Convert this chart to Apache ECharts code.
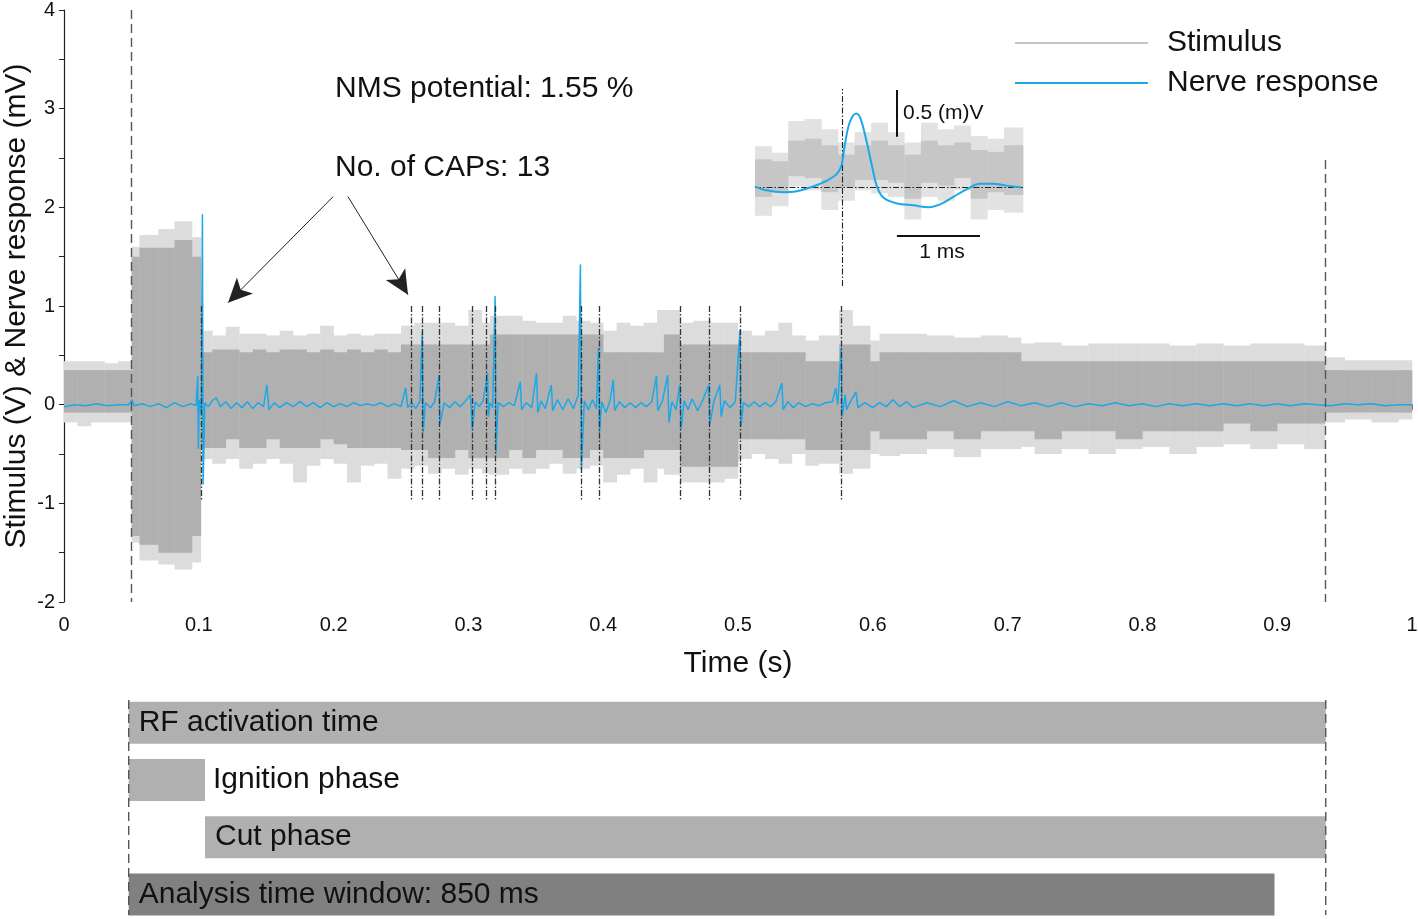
<!DOCTYPE html>
<html><head><meta charset="utf-8">
<script src="https://cdn.jsdelivr.net/npm/echarts@6/dist/echarts.min.js"></script>
<style>html,body{margin:0;padding:0;background:#fff}#chart{width:1418px;height:919px}</style>
</head><body><div id="chart"></div>
<script>
const FONT = '"Liberation Sans", Arial, Helvetica, sans-serif';

// ---- Stimulus envelope (step segments) ----
const stimTime = [0, 0.01, 0.02, 0.03, 0.04, 0.0502, 0.056, 0.07, 0.082, 0.095,
  0.1015, 0.11, 0.12, 0.13, 0.14, 0.15, 0.16, 0.17, 0.18, 0.19,
  0.20, 0.21, 0.22, 0.23, 0.24, 0.25, 0.26, 0.27, 0.28, 0.29,
  0.30, 0.31, 0.316, 0.33, 0.34, 0.35, 0.36, 0.37, 0.38, 0.39,
  0.40, 0.41, 0.42, 0.43, 0.44, 0.445, 0.457, 0.467, 0.48, 0.49,
  0.50, 0.51, 0.52, 0.53, 0.54, 0.55, 0.56, 0.575, 0.585, 0.598,
  0.605, 0.62, 0.64, 0.66, 0.68, 0.70, 0.71, 0.72, 0.74, 0.76,
  0.78, 0.80, 0.82, 0.84, 0.86, 0.88, 0.90, 0.92, 0.9355, 0.95,
  0.97, 0.99, 1.0];
const stimCoreHigh = [0.35, 0.35, 0.35, 0.35, 0.35, 1.50, 1.59, 1.59, 1.67, 1.50,
  0.53, 0.56, 0.56, 0.53, 0.56, 0.53, 0.56, 0.56, 0.53, 0.56,
  0.53, 0.56, 0.53, 0.56, 0.53, 0.61, 0.61, 0.61, 0.61, 0.61,
  0.61, 0.61, 0.71, 0.71, 0.71, 0.71, 0.71, 0.71, 0.71, 0.71,
  0.53, 0.53, 0.53, 0.53, 0.53, 0.71, 0.61, 0.61, 0.61, 0.61,
  0.53, 0.53, 0.53, 0.53, 0.53, 0.44, 0.44, 0.61, 0.61, 0.44,
  0.53, 0.53, 0.53, 0.53, 0.53, 0.53, 0.44, 0.44, 0.44, 0.44,
  0.44, 0.44, 0.44, 0.44, 0.44, 0.44, 0.44, 0.44, 0.35, 0.35,
  0.35, 0.35];
const stimCoreLow = [-0.08, -0.08, -0.08, -0.08, -0.08, -1.33, -1.42, -1.50, -1.50, -1.33,
  -0.44, -0.44, -0.35, -0.44, -0.44, -0.35, -0.44, -0.44, -0.44, -0.35,
  -0.40, -0.44, -0.44, -0.44, -0.44, -0.46, -0.46, -0.54, -0.54, -0.46,
  -0.54, -0.54, -0.54, -0.46, -0.54, -0.46, -0.46, -0.54, -0.54, -0.46,
  -0.54, -0.54, -0.54, -0.46, -0.46, -0.46, -0.63, -0.63, -0.63, -0.63,
  -0.35, -0.35, -0.35, -0.35, -0.35, -0.46, -0.46, -0.46, -0.46, -0.27,
  -0.35, -0.35, -0.27, -0.35, -0.27, -0.27, -0.27, -0.35, -0.27, -0.27,
  -0.35, -0.27, -0.27, -0.27, -0.19, -0.27, -0.19, -0.19, -0.08, -0.08,
  -0.08, -0.08];
const stimPeakHigh = [0.44, 0.44, 0.44, 0.42, 0.44, 1.60, 1.72, 1.78, 1.86, 1.70,
  0.75, 0.70, 0.79, 0.72, 0.72, 0.70, 0.75, 0.70, 0.72, 0.80,
  0.70, 0.72, 0.70, 0.72, 0.72, 0.80, 0.83, 0.83, 0.83, 0.80,
  0.96, 0.83, 0.90, 0.90, 0.85, 0.83, 0.83, 0.90, 0.85, 0.83,
  0.75, 0.83, 0.80, 0.83, 0.96, 0.96, 0.83, 0.85, 0.83, 0.83,
  0.75, 0.70, 0.75, 0.83, 0.70, 0.65, 0.70, 0.96, 0.80, 0.65,
  0.72, 0.72, 0.70, 0.68, 0.70, 0.68, 0.62, 0.63, 0.60, 0.62,
  0.62, 0.62, 0.60, 0.62, 0.60, 0.62, 0.62, 0.60, 0.48, 0.45,
  0.45, 0.45];
const stimPeakLow = [-0.18, -0.22, -0.18, -0.18, -0.18, -1.40, -1.58, -1.62, -1.67, -1.60,
  -0.55, -0.60, -0.55, -0.65, -0.60, -0.55, -0.60, -0.79, -0.62, -0.55,
  -0.60, -0.79, -0.62, -0.60, -0.75, -0.65, -0.62, -0.70, -0.65, -0.71,
  -0.65, -0.70, -0.71, -0.65, -0.70, -0.65, -0.60, -0.70, -0.65, -0.62,
  -0.79, -0.71, -0.65, -0.79, -0.65, -0.71, -0.79, -0.79, -0.79, -0.75,
  -0.55, -0.50, -0.55, -0.60, -0.50, -0.62, -0.60, -0.70, -0.65, -0.50,
  -0.52, -0.50, -0.45, -0.53, -0.45, -0.45, -0.43, -0.50, -0.45, -0.50,
  -0.45, -0.43, -0.50, -0.43, -0.40, -0.45, -0.40, -0.45, -0.18, -0.15,
  -0.18, -0.15];

// ---- Nerve response trace [time s, mV] ----
const nerveResponse = [
  [0,-0.02],[0.008,0.0],[0.016,-0.01],[0.024,0.01],[0.032,-0.01],[0.04,0.0],[0.048,0.0],[0.0505,0.05],[0.052,-0.01],
  [0.058,0.01],[0.064,-0.02],[0.07,0.01],[0.076,-0.03],[0.082,0.02],[0.088,-0.02],[0.094,0.01],[0.098,-0.01],
  [0.0992,0.29],[0.0997,-0.45],[0.1003,0.05],[0.1018,-0.1],[0.1027,1.93],[0.1032,-0.81],[0.1045,0.02],
  [0.107,-0.02],[0.11,0.04],[0.113,0.07],[0.116,-0.02],[0.12,0.03],[0.124,-0.04],[0.128,0.02],[0.132,-0.03],
  [0.136,0.03],[0.14,-0.04],[0.144,0.02],[0.148,-0.02],[0.1505,0.2],[0.152,-0.05],[0.156,0.02],[0.16,-0.03],
  [0.165,0.02],[0.17,-0.02],[0.175,0.03],[0.18,-0.02],[0.185,0.02],[0.19,-0.03],[0.195,0.02],[0.2,-0.02],
  [0.205,0.01],[0.21,-0.02],[0.215,0.02],[0.22,-0.01],[0.225,0.01],[0.23,-0.01],[0.235,0.02],[0.24,-0.02],
  [0.245,0.01],[0.25,-0.02],[0.2535,0.17],[0.255,-0.03],[0.258,0.02],[0.261,-0.04],[0.264,0.03],
  [0.2658,0.74],[0.2665,-0.28],[0.268,0.02],[0.272,-0.03],[0.275,0.03],[0.2782,0.3],[0.2789,-0.2],
  [0.282,0.02],[0.286,-0.03],[0.29,0.03],[0.294,-0.02],[0.298,0.04],[0.3015,0.1],[0.3029,-0.25],[0.305,0.03],
  [0.308,-0.02],[0.311,0.04],[0.3142,0.32],[0.3148,-0.12],[0.316,0.02],[0.318,-0.03],[0.3198,1.1],[0.3205,-0.49],
  [0.322,0.02],[0.326,-0.02],[0.33,0.02],[0.334,-0.01],[0.3385,0.23],[0.3395,-0.05],[0.343,0.02],[0.347,-0.03],
  [0.3505,0.32],[0.3515,-0.08],[0.354,0.04],[0.357,-0.04],[0.3615,0.2],[0.3625,-0.06],[0.366,0.05],[0.37,-0.05],
  [0.374,0.06],[0.378,-0.04],[0.3815,0.1],[0.3831,1.42],[0.3838,-0.66],[0.386,0.04],[0.389,-0.05],[0.392,0.05],
  [0.395,-0.04],[0.3965,0.58],[0.3972,-0.28],[0.399,0.03],[0.402,-0.08],[0.405,0.04],[0.4075,0.25],[0.4085,-0.06],
  [0.412,0.03],[0.416,-0.03],[0.42,0.02],[0.424,-0.03],[0.428,0.02],[0.432,-0.02],[0.436,0.03],[0.4395,0.29],
  [0.4405,-0.06],[0.444,0.04],[0.4478,0.3],[0.4488,-0.18],[0.451,0.03],[0.454,-0.05],[0.4568,0.2],[0.4578,-0.25],
  [0.46,0.04],[0.463,-0.05],[0.466,0.06],[0.47,-0.06],[0.474,0.05],[0.4782,0.2],[0.4792,-0.2],[0.482,0.03],
  [0.4865,0.2],[0.4875,-0.12],[0.49,0.04],[0.494,-0.03],[0.498,0.03],[0.5015,0.76],[0.5022,-0.22],[0.504,0.02],
  [0.508,-0.02],[0.512,0.03],[0.516,-0.02],[0.52,0.02],[0.524,-0.02],[0.528,0.03],[0.5325,0.22],[0.5335,-0.05],
  [0.537,0.03],[0.541,-0.03],[0.545,0.02],[0.55,-0.02],[0.555,0.01],[0.56,-0.01],[0.565,0.02],[0.57,0.03],
  [0.5725,0.17],[0.574,0.0],[0.5766,0.58],[0.5773,-0.12],[0.5795,0.1],[0.5805,-0.05],[0.583,0.02],[0.5875,0.13],
  [0.589,-0.03],[0.594,0.02],[0.6,-0.03],[0.605,0.02],[0.61,-0.02],[0.615,0.05],[0.62,-0.02],[0.625,0.03],
  [0.63,-0.03],[0.64,0.02],[0.65,-0.02],[0.66,0.04],[0.67,-0.02],[0.68,0.02],[0.69,-0.02],[0.70,0.03],
  [0.71,-0.01],[0.72,0.02],[0.73,-0.02],[0.74,0.02],[0.75,-0.02],[0.76,0.01],[0.77,-0.01],[0.78,0.02],
  [0.79,-0.01],[0.80,0.01],[0.81,-0.02],[0.82,0.01],[0.83,-0.01],[0.84,0.01],[0.85,-0.01],[0.86,0.01],
  [0.87,-0.01],[0.88,0.01],[0.89,-0.01],[0.90,0.01],[0.91,-0.01],[0.92,0.01],[0.93,0.0],[0.94,-0.01],
  [0.95,0.01],[0.96,0.0],[0.97,0.01],[0.98,-0.01],[0.99,0.0],[1.0,0.0]
];

// ---- Detected CAPs and RF window ----
const capTimes = [0.1021, 0.2579, 0.2661, 0.2784, 0.3029, 0.3135, 0.3202, 0.3835, 0.3969, 0.4575, 0.4785, 0.502, 0.5769];
const rfWindow = [0.0501, 0.9355];

// ---- Inset: averaged CAP (time ms, mV) ----
const insetCap = [
  [0,0.01],[0.14,-0.03],[0.34,-0.05],[0.50,-0.04],[0.70,0.01],[0.86,0.07],[0.98,0.14],[1.04,0.23],
  [1.08,0.44],[1.14,0.69],[1.22,0.79],[1.27,0.74],[1.34,0.51],[1.41,0.23],[1.47,0.01],[1.55,-0.11],
  [1.71,-0.17],[1.91,-0.19],[2.09,-0.21],[2.23,-0.18],[2.39,-0.10],[2.55,-0.02],[2.71,0.04],[2.87,0.04],
  [3.03,0.02],[3.21,0.0]
];
const insetNoiseTime = [0, 0.2, 0.4, 0.6, 0.8, 1.0, 1.2, 1.4, 1.6, 1.8, 2.0, 2.2, 2.4, 2.6, 2.8, 3.0, 3.23];
const insetNoiseHigh = [0.44, 0.37, 0.71, 0.73, 0.62, 0.48, 0.59, 0.69, 0.59, 0.48, 0.69, 0.62, 0.66, 0.55, 0.52, 0.64];
const insetNoiseLow = [-0.30, -0.20, 0.01, -0.03, -0.24, -0.14, -0.03, -0.06, -0.10, -0.34, -0.10, -0.14, -0.03, -0.34, -0.24, -0.27];
const insetCoreHigh = [0.30, 0.28, 0.50, 0.52, 0.45, 0.35, 0.45, 0.50, 0.45, 0.35, 0.50, 0.45, 0.48, 0.40, 0.38, 0.45];
const insetCoreLow = [-0.10, -0.05, 0.12, 0.10, -0.05, 0.00, 0.08, 0.08, 0.05, -0.12, 0.05, 0.02, 0.10, -0.12, -0.05, -0.08];
const insetCapOnset = 1.048;
const insetScaleBarX = 1.711;

// ---- Phase bars ----
const phaseNames = ['RF activation time', 'Ignition phase', 'Cut phase', 'Analysis time window: 850 ms'];
const phaseStart = [0.048, 0.048, 0.1046, 0.048];
const phaseEnd = [0.936, 0.1046, 0.936, 0.898];
const phaseColors = ['#b0b0b0', '#b0b0b0', '#b0b0b0', '#808080'];
const phaseWindow = [0.048, 0.936];

// ---- helpers ----
function segments(t, lo, hi) {
  const out = [];
  for (let i = 0; i < hi.length; i++) out.push([t[i], t[i + 1], lo[i], hi[i]]);
  return out;
}
function bandRenderer(color) {
  return function (params, api) {
    const p0 = api.coord([api.value(0), api.value(3)]);
    const p1 = api.coord([api.value(1), api.value(2)]);
    return { type: 'rect', shape: { x: p0[0], y: p0[1], width: p1[0] - p0[0] + 0.3, height: p1[1] - p0[1] },
      style: { fill: color } };
  };
}
const DASHDOT = [6, 2, 1.5, 2];

const chart = echarts.init(document.getElementById('chart'), null, { renderer: 'canvas' });
const option = {
  animation: false,
  backgroundColor: '#ffffff',
  textStyle: { fontFamily: FONT },
  grid: [
    { left: 64, right: 6, top: 10, height: 592, outerBoundsMode: 'none', containLabel: false },
    { left: 755, top: 89, width: 268, height: 197, outerBoundsMode: 'none', containLabel: false },
    { left: 64, right: 6, top: 694, height: 229, outerBoundsMode: 'none', containLabel: false }
  ],
  xAxis: [
    { type: 'value', gridIndex: 0, min: 0, max: 1, interval: 0.1,
      name: 'Time (s)', nameLocation: 'middle', nameGap: 47, nameMoveOverlap: false,
      nameTextStyle: { fontSize: 30, color: '#111', fontFamily: FONT },
      axisLine: { lineStyle: { color: '#222', width: 1.2 } },
      axisTick: { length: 5, lineStyle: { color: '#222' } },
      minorTick: { show: true, splitNumber: 2, length: 5, lineStyle: { color: '#222' } },
      splitLine: { show: false },
      axisLabel: { fontSize: 20, color: '#111', margin: 13, fontFamily: FONT } },
    { type: 'value', gridIndex: 1, min: 0, max: 3.23, show: false, splitLine: { show: false } },
    { type: 'value', gridIndex: 2, min: 0, max: 1, show: false, splitLine: { show: false } }
  ],
  yAxis: [
    { type: 'value', gridIndex: 0, min: -2, max: 4, interval: 1,
      name: 'Stimulus (V) & Nerve response (mV)', nameLocation: 'middle', nameGap: 32, nameMoveOverlap: false,
      nameTextStyle: { fontSize: 30, color: '#111', fontFamily: FONT },
      axisLine: { show: true, lineStyle: { color: '#222', width: 1.2 } },
      axisTick: { show: true, length: 5, lineStyle: { color: '#222' } },
      minorTick: { show: true, splitNumber: 2, length: 5, lineStyle: { color: '#222' } },
      splitLine: { show: false },
      axisLabel: { fontSize: 20, color: '#111', margin: 9, fontFamily: FONT } },
    { type: 'value', gridIndex: 1, min: -1.05, max: 1.05, show: false, splitLine: { show: false } },
    { type: 'category', gridIndex: 2, data: phaseNames, inverse: true, show: false }
  ],
  legend: {
    orient: 'vertical', left: 1015, top: 28, itemWidth: 133, itemHeight: 2, itemGap: 10, padding: 0,
    icon: 'rect',
    textStyle: { fontSize: 30, color: '#111', fontFamily: FONT, padding: [0, 0, 0, 14] },
    data: [
      { name: 'Stimulus', itemStyle: { color: '#c4c4c4' } },
      { name: 'Nerve response', itemStyle: { color: '#1ba8e8' } }
    ],
    selectedMode: false
  },
  graphic: [
    { type: 'text', x: 335, y: 89, z: 20,
      style: { text: 'NMS potential: 1.55 %', fontSize: 30, fontFamily: FONT, fill: '#111', verticalAlign: 'middle' } },
    { type: 'text', x: 335, y: 168, z: 20,
      style: { text: 'No. of CAPs: 13', fontSize: 30, fontFamily: FONT, fill: '#111', verticalAlign: 'middle' } },
    { type: 'text', x: 903, y: 113, z: 20,
      style: { text: '0.5 (m)V', fontSize: 21, fontFamily: FONT, fill: '#111', verticalAlign: 'middle' } },
    { type: 'text', x: 942, y: 252, z: 20,
      style: { text: '1 ms', fontSize: 21, fontFamily: FONT, fill: '#111', align: 'center', verticalAlign: 'middle' } }
  ],
  series: [
    { name: 'Stimulus peaks', type: 'custom', xAxisIndex: 0, yAxisIndex: 0, z: 1,
      renderItem: bandRenderer('#dcdcdc'), encode: { x: [0, 1], y: [2, 3] },
      data: segments(stimTime, stimPeakLow, stimPeakHigh), silent: true },
    { name: 'Stimulus', type: 'custom', xAxisIndex: 0, yAxisIndex: 0, z: 2,
      itemStyle: { color: '#c4c4c4' },
      renderItem: bandRenderer('#b0b0b0'), encode: { x: [0, 1], y: [2, 3] },
      data: segments(stimTime, stimCoreLow, stimCoreHigh), silent: true },
    { name: 'Nerve response', type: 'line', xAxisIndex: 0, yAxisIndex: 0, z: 3,
      data: nerveResponse, showSymbol: false, symbol: 'none',
      lineStyle: { color: '#1ba8e8', width: 1.5 }, itemStyle: { color: '#1ba8e8' } },
    { name: 'markers', type: 'line', xAxisIndex: 0, yAxisIndex: 0, z: 6, data: [],
      markLine: {
        silent: true, z: 6, symbol: ['none', 'none'], label: { show: false },
        data: [
          [{ coord: [rfWindow[0], 4], lineStyle: { type: [9, 5], color: '#555', width: 1.4 } }, { coord: [rfWindow[0], -2] }],
          [{ coord: [rfWindow[1], 2.48], lineStyle: { type: [9, 5], color: '#555', width: 1.4 } }, { coord: [rfWindow[1], -2] }]
        ].concat(capTimes.map(t => [
          { coord: [t, 1.0], lineStyle: { type: DASHDOT, color: '#333', width: 1.3 } }, { coord: [t, -0.98] }
        ]))
      } },
    { name: 'arrows', type: 'line', xAxisIndex: 0, yAxisIndex: 0, z: 6, data: [],
      markLine: {
        silent: true, z: 6, symbol: ['none', 'arrow'], symbolSize: [17, 24], label: { show: false },
        lineStyle: { type: 'solid', color: '#222', width: 1 },
        data: [
          [{ coord: [0.1996, 2.108] }, { coord: [0.1217, 1.034] }],
          [{ coord: [0.2107, 2.108] }, { coord: [0.2552, 1.115] }]
        ]
      } },
    // inset
    { name: 'Inset noise outer', type: 'custom', xAxisIndex: 1, yAxisIndex: 1, z: 7,
      renderItem: bandRenderer('#e2e2e2'), encode: { x: [0, 1], y: [2, 3] },
      data: segments(insetNoiseTime, insetNoiseLow, insetNoiseHigh), silent: true },
    { name: 'Inset noise core', type: 'custom', xAxisIndex: 1, yAxisIndex: 1, z: 8,
      renderItem: bandRenderer('#c6c6c6'), encode: { x: [0, 1], y: [2, 3] },
      data: segments(insetNoiseTime, insetCoreLow, insetCoreHigh), silent: true },
    { name: 'Inset marks', type: 'line', xAxisIndex: 1, yAxisIndex: 1, z: 10, data: [],
      markLine: {
        silent: true, z: 10, symbol: ['none', 'none'], label: { show: false },
        data: [
          [{ coord: [0, 0], lineStyle: { type: DASHDOT, color: '#222', width: 1.1 } }, { coord: [3.23, 0] }],
          [{ coord: [insetCapOnset, -1.05], lineStyle: { type: DASHDOT, color: '#222', width: 1.1 } }, { coord: [insetCapOnset, 1.05] }],
          [{ coord: [insetScaleBarX, 0.54], lineStyle: { type: 'solid', color: '#111', width: 2 } }, { coord: [insetScaleBarX, 1.04] }],
          [{ coord: [insetScaleBarX, -0.51], lineStyle: { type: 'solid', color: '#111', width: 2 } }, { coord: [insetScaleBarX + 1, -0.51] }]
        ]
      } },
    { name: 'Inset CAP', type: 'line', xAxisIndex: 1, yAxisIndex: 1, z: 11,
      data: insetCap, showSymbol: false, symbol: 'none', smooth: 0.35,
      lineStyle: { color: '#1ba8e8', width: 2 } },
    // phase bars
    { name: 'phase base', type: 'bar', xAxisIndex: 2, yAxisIndex: 2, stack: 'phase', barWidth: 42,
      itemStyle: { color: 'rgba(0,0,0,0)' }, data: phaseStart, silent: true },
    { name: 'phase', type: 'bar', xAxisIndex: 2, yAxisIndex: 2, stack: 'phase', barWidth: 42, silent: true,
      data: phaseNames.map((n, i) => ({
        value: phaseEnd[i] - phaseStart[i],
        itemStyle: { color: phaseColors[i] },
        label: { show: true, position: i === 1 ? 'right' : 'insideLeft', distance: i === 1 ? 8 : 10,
          formatter: n, fontSize: 30, color: '#111', fontFamily: FONT }
      })) },
    { name: 'phase window', type: 'custom', xAxisIndex: 2, yAxisIndex: 2, z: 6, silent: true,
      encode: { x: 0, y: 1 },
      data: phaseWindow.map(x => [x, 0]),
      renderItem: function (params, api) {
        const top = api.coord([api.value(0), 0]);
        const bottom = api.coord([api.value(0), phaseNames.length - 1]);
        const band = api.size([0, 1])[1];
        return { type: 'line',
          shape: { x1: top[0], y1: top[1] - band / 2 + 6, x2: top[0], y2: bottom[1] + band / 2 - 8 },
          style: { stroke: '#555', lineWidth: 1.4, lineDash: [9, 5] } };
      } }
  ]
};
chart.setOption(option);
</script></body></html>
